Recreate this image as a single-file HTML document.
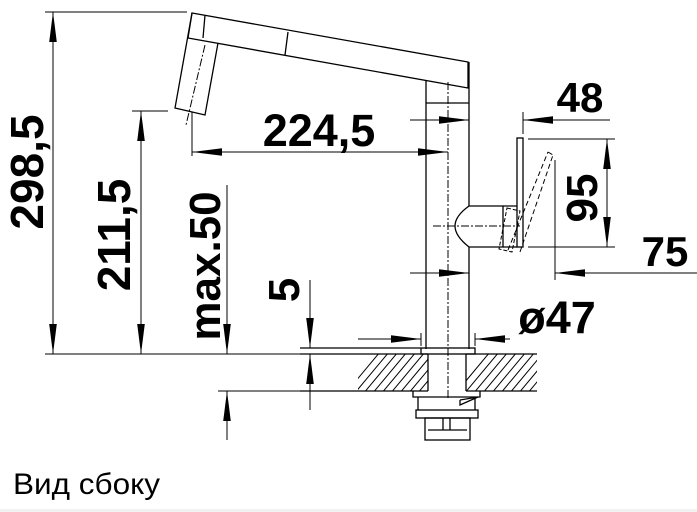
<!DOCTYPE html>
<html><head><meta charset="utf-8"><style>
html,body{margin:0;padding:0;background:#fff;width:697px;height:512px;overflow:hidden}
svg{display:block}
text{font-family:"Liberation Sans",sans-serif;font-weight:bold;fill:#000}
</style></head><body>
<svg width="697" height="512" viewBox="0 0 697 512" xmlns="http://www.w3.org/2000/svg">
<defs>
<clipPath id="hl"><rect x="358" y="354" width="70" height="37"/></clipPath>
<clipPath id="hr"><rect x="466" y="354" width="71" height="37"/></clipPath>
<marker id="a" viewBox="0 0 30 10" refX="30" refY="5" markerWidth="30" markerHeight="10" markerUnits="userSpaceOnUse" orient="auto"><path d="M0,1.2 L30,5 L0,8.8z" fill="#000"/></marker>
</defs>
<rect x="0" y="509" width="697" height="3" fill="#f2f2f2"/>
<g stroke="#000" stroke-width="1.3" fill="none">
<path d="M192,13 L468,62 L468,88 L188,38 Z"/>
<path d="M205,15 L203,38 M288,32 L285,55"/>
<path d="M192,13 L175,108 L205,115 L218,43"/>
<path d="M205,45 L186,125" stroke-dasharray="8,2,2,2" stroke-width="1"/>
<path d="M426,80 L426,349 M469,62 L469,206 M469,247 L469,349 M426,103 L469,103"/>
<path d="M448,82 L448,400" stroke-dasharray="8,2,2,2" stroke-width="1"/>
<path d="M469,206 L503,206 L503,247 L469,247 Q455,236 455,226 Q455,216 469,206 Z" fill="#fff"/>
<path d="M503,206 L517,206 M503,247 L517,247"/>
<rect x="517" y="138" width="6" height="109"/>
<path d="M507,208 L520,211 L512,252 L499,249 Z" stroke-dasharray="4,2" stroke-width="1"/>
<path d="M508,250 L548,152 M520,252 L553,155 M548,152 L553,155" stroke-dasharray="5,3" stroke-width="1"/>
<path d="M433,226 L520,226" stroke-dasharray="8,2,2,2" stroke-width="1"/>
<rect x="421" y="348" width="54" height="6"/>
<path d="M300,354 L428,354 M466,354 L537,354 M300,391 L428,391 M466,391 L537,391 M428,354 L428,391 M466,354 L466,391"/>
<path d="M300,348 L421,348"/>
<g clip-path="url(#hl)" stroke-width="1">
<path d="M340,400 L390,340 M349,400 L399,340 M358,400 L408,340 M367,400 L417,340 M376,400 L426,340 M385,400 L435,340 M394,400 L444,340 M403,400 L453,340 M412,400 L462,340 M421,400 L471,340"/>
</g>
<g clip-path="url(#hr)" stroke-width="1">
<path d="M450,400 L500,340 M459,400 L509,340 M468,400 L518,340 M477,400 L527,340 M486,400 L536,340 M495,400 L545,340 M504,400 L554,340 M513,400 L563,340 M522,400 L572,340 M531,400 L581,340 M540,400 L590,340"/>
</g>
<path d="M413,391 L413,397 L480,397 L480,391"/>
<path d="M418,397 L418,410 M475,397 L475,410 M460,400 L478,397 M460,400 L460,405 L478,397"/>
<rect x="416" y="410" width="62" height="8"/>
<rect x="425" y="418" width="45" height="22"/>
<path d="M428,430 L467,430 M443,418 L443,430 M450,418 L450,430"/>
<g stroke-width="1">
<path d="M45,12 L187,12 M45,354 L300,354 M132,111 L168,111 M218,391 L300,391 M320,391 L358,391"/>
<path d="M53,183 L53,12" marker-end="url(#a)"/><path d="M53,183 L53,354" marker-end="url(#a)"/>
<path d="M141,230 L141,111" marker-end="url(#a)"/><path d="M141,230 L141,354" marker-end="url(#a)"/>
<path d="M227,185 L227,354" marker-end="url(#a)"/><path d="M227,440 L227,391" marker-end="url(#a)"/>
<path d="M310,280 L310,348" marker-end="url(#a)"/><path d="M310,410 L310,354" marker-end="url(#a)"/>
<path d="M192,112 L192,156 M523,112 L523,134 M555,160 L555,280 M421,333 L421,346 M475,333 L475,346 M528,139 L615,139 M528,247 L615,247"/>
<path d="M320,152 L192,152" marker-end="url(#a)"/><path d="M320,152 L448,152" marker-end="url(#a)"/>
<path d="M410,120 L469,120" marker-end="url(#a)"/><path d="M610,120 L523,120" marker-end="url(#a)"/>
<path d="M410,273 L469,273" marker-end="url(#a)"/><path d="M697,273 L555,273" marker-end="url(#a)"/>
<path d="M358,339 L421,339" marker-end="url(#a)"/><path d="M510,339 L475,339" marker-end="url(#a)"/>
<path d="M607,193 L607,139" marker-end="url(#a)"/><path d="M607,193 L607,247" marker-end="url(#a)"/>
</g>
</g>
<text x="319" y="146" font-size="45" text-anchor="middle">224,5</text>
<text x="580" y="112" font-size="42" text-anchor="middle">48</text>
<text x="665" y="266" font-size="42" text-anchor="middle">75</text>
<text x="557" y="333" font-size="45" text-anchor="middle">ø47</text>
<text transform="translate(43,172) rotate(-90)" font-size="46" text-anchor="middle">298,5</text>
<text transform="translate(130,235) rotate(-90)" font-size="46" text-anchor="middle">211,5</text>
<text transform="translate(220,266) rotate(-90)" font-size="44" text-anchor="middle">max.50</text>
<text transform="translate(299,290) rotate(-90)" font-size="44" text-anchor="middle">5</text>
<text transform="translate(597,198) rotate(-90)" font-size="44" text-anchor="middle">95</text>
<text x="13" y="494" font-size="30" textLength="147" lengthAdjust="spacingAndGlyphs" style="font-weight:normal">Вид сбоку</text>
</svg>
</body></html>
